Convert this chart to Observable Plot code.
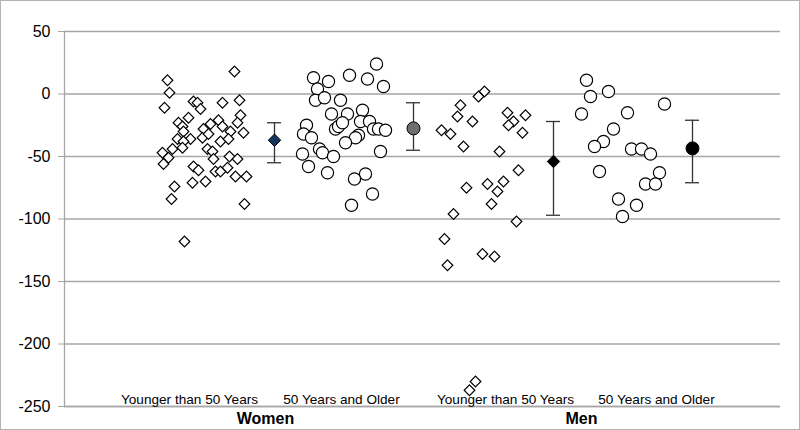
<!DOCTYPE html>
<html>
<head>
<meta charset="utf-8">
<script src="https://cdn.jsdelivr.net/npm/d3@7"></script>
<script src="https://cdn.jsdelivr.net/npm/@observablehq/plot@0.6"></script>
<style>
  html, body { margin: 0; padding: 0; background: #fff; }
  #chart svg { display: block; outline: 1px solid #b4b4b4; outline-offset: -1px; }
</style>
</head>
<body>
<div id="chart"></div>
<script>
// Category labels and their horizontal slots
const categories = ["Younger than 50 Years", "50 Years and Older", "Younger than 50 Years", "50 Years and Older"];
const categoryX = [1.25, 2.77, 4.41, 5.92];
const groups = ["Women", "Men"];
const groupX = [2.01, 5.17];
const yTicks = [50, 0, -50, -100, -150, -200, -250];

// Individual values: [jittered x, value]
const womenYounger = [
  [1.70,18],[1.03,11],[1.05,1],[1.00,-11],[1.29,-6],[1.33,-7],[1.36,-12],[1.58,-7],[1.75,-5],
  [1.24,-19],[1.76,-17],[1.73,-23],[1.54,-21],[1.14,-23],[1.18,-26],[1.19,-30],[1.46,-24],
  [1.39,-28],[1.79,-31],[1.58,-26],[1.66,-30],[1.26,-36],[1.13,-36],[1.19,-38],[1.38,-35],
  [1.44,-32],[1.56,-38],[1.64,-36],[1.08,-44],[1.18,-43],[0.98,-47],[1.04,-51],[0.99,-56],
  [1.43,-44],[1.48,-46],[1.49,-52],[1.65,-50],[1.73,-52],[1.29,-58],[1.34,-61],[1.51,-62],
  [1.56,-62],[1.63,-59],[1.71,-66],[1.82,-66],[1.28,-71],[1.41,-70],[1.10,-74],[1.07,-84],
  [1.80,-88],[1.20,-118]
];
const womenOlder = [
  [3.12,24],[2.49,13],[2.64,10],[2.85,15],[3.03,12],[3.19,6],[2.53,4],[2.51,-5],[2.60,-3],
  [2.76,-5],[2.67,-16],[2.83,-16],[2.98,-13],[2.42,-25],[2.39,-32],[2.47,-35],[2.71,-28],
  [2.74,-26],[2.78,-23],[2.96,-22],[3.05,-22],[3.09,-28],[3.14,-28],[3.21,-29],[2.94,-33],
  [2.91,-35],[2.81,-39],[2.55,-44],[2.58,-47],[2.38,-48],[2.69,-50],[3.16,-46],[2.44,-58],
  [2.63,-63],[3.01,-64],[2.90,-68],[3.08,-80],[2.87,-89]
];
const menYounger = [
  [4.20,2],[4.14,-2],[3.96,-9],[3.93,-18],[4.08,-22],[4.43,-15],[4.61,-17],[4.49,-22],
  [4.44,-25],[4.58,-31],[3.77,-29],[3.86,-32],[3.99,-42],[4.35,-46],[4.54,-61],[4.02,-75],
  [4.23,-72],[4.39,-70],[4.33,-78],[4.27,-88],[3.89,-96],[4.52,-102],[3.80,-116],[4.18,-128],
  [4.30,-130],[3.83,-137],[4.11,-230],[4.05,-237]
];
const menOlder = [
  [5.22,11],[5.44,2],[5.26,-2],[6.00,-8],[5.17,-16],[5.63,-15],[5.49,-28],[5.39,-38],
  [5.30,-42],[5.67,-44],[5.77,-44],[5.86,-48],[5.35,-62],[5.95,-63],[5.81,-72],[5.91,-72],
  [5.54,-84],[5.72,-89],[5.58,-98]
];

// Group means with error bars
const meanX = [2.10, 3.49, 4.89, 6.28];
const meanY = [-37, -27.5, -54, -43.5];
const errHigh = [-23, -7, -22, -21];
const errLow = [-55, -45, -97, -71];
const meanFill = ["#17365d", "#6e6e6e", "#000000", "#000000"];
const meanSymbol = ["diamond", "circle", "diamond", "circle"];

const toPts = arr => arr.map(([x, y]) => ({x, y}));
const means = meanX.map((x, i) => ({x, y: meanY[i], hi: errHigh[i], lo: errLow[i], fill: meanFill[i], symbol: meanSymbol[i]}));
const meanDiamonds = means.filter(d => d.symbol === "diamond");
const meanCircles = means.filter(d => d.symbol === "circle");
const catData = categories.map((c, i) => ({label: c, x: categoryX[i]}));
const grpData = groups.map((g, i) => ({label: g, x: groupX[i]}));

const pointStyle = {x: "x", y: "y", stroke: "#000", strokeWidth: 1.2, fill: "#fff"};

const chart = Plot.plot({
  width: 800,
  height: 430,
  marginLeft: 64,
  marginRight: 20,
  marginTop: 31,
  marginBottom: 24,
  style: {fontFamily: "Arial, 'Liberation Sans', sans-serif", background: "#fff", color: "#000"},
  x: {domain: [0, 7.16], axis: null},
  y: {domain: [-250, 50]},
  marks: [
    Plot.gridY(yTicks, {stroke: "#a6a6a6", strokeOpacity: 1, strokeWidth: 1.3}),
    Plot.ruleX([0], {stroke: "#a6a6a6", strokeWidth: 1.3}),
    Plot.ruleY([-250], {stroke: "#a6a6a6", strokeWidth: 1.3}),
    Plot.axisY(yTicks, {tickSize: 6, tickPadding: 8, fontSize: 16, stroke: "#a6a6a6", fill: "#000", label: null, tickFormat: d => d < 0 ? "-" + Math.abs(d) : String(d)}),
    Plot.dot(toPts(womenYounger), {...pointStyle, symbol: "diamond2", r: 4.8}),
    Plot.dot(toPts(womenOlder), {...pointStyle, symbol: "circle", r: 6.1}),
    Plot.dot(toPts(menYounger), {...pointStyle, symbol: "diamond2", r: 4.8}),
    Plot.dot(toPts(menOlder), {...pointStyle, symbol: "circle", r: 6.1}),
    Plot.ruleX(means, {x: "x", y1: "lo", y2: "hi", stroke: "#333", strokeWidth: 1.3}),
    Plot.ruleY(means, {y: "hi", x1: d => d.x - 0.07, x2: d => d.x + 0.07, stroke: "#333", strokeWidth: 1.3}),
    Plot.ruleY(means, {y: "lo", x1: d => d.x - 0.07, x2: d => d.x + 0.07, stroke: "#333", strokeWidth: 1.3}),
    Plot.dot(meanDiamonds, {x: "x", y: "y", symbol: "diamond2", r: 5.6, fill: "fill", stroke: "#000", strokeWidth: 1}),
    Plot.dot(meanCircles, {x: "x", y: "y", symbol: "circle", r: 6.5, fill: "fill", stroke: "#000", strokeWidth: 1}),
    Plot.text(catData, {x: "x", y: () => -250, text: "label", dy: -7, fontSize: 13.6, fill: "#000", lineAnchor: "middle"}),
    Plot.text(grpData, {x: "x", y: () => -250, text: "label", dy: 12, fontSize: 16, fontWeight: "bold", fill: "#000", lineAnchor: "middle"})
  ]
});
document.getElementById("chart").append(chart);
</script>
</body>
</html>
